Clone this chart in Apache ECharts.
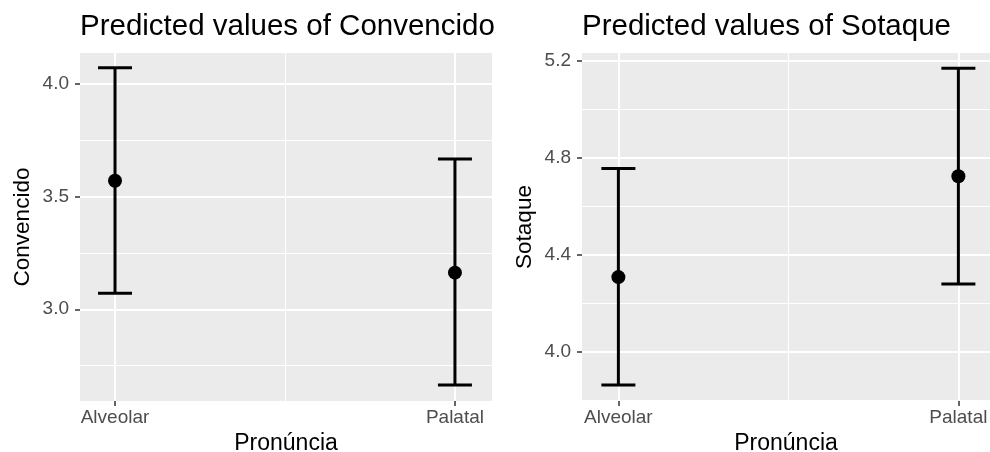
<!DOCTYPE html>
<html>
<head>
<meta charset="utf-8">
<script src="https://cdn.jsdelivr.net/npm/echarts@6/dist/echarts.min.js"></script>
<style>
  html, body { margin: 0; padding: 0; background: #fff; }
  #chart { width: 990px; height: 452px; }
</style>
</head>
<body>
<div id="chart"></div>
<script>
// categories on x (plotted at 1 and 2)
var categories = ['Alveolar', 'Palatal'];
var catPos = [1, 2];
var catMinor = [1.5];

// Convencido: predicted value and confidence interval
var convPred = [3.569, 3.162];
var convLow = [3.071, 2.665];
var convHigh = [4.069, 3.665];
var convTicks = [3.0, 3.5, 4.0];
var convMinor = [2.75, 3.25, 3.75];

// Sotaque: predicted value and confidence interval
var sotPred = [4.308, 4.724];
var sotLow = [3.863, 4.279];
var sotHigh = [4.756, 5.169];
var sotTicks = [4.0, 4.4, 4.8, 5.2];
var sotMinor = [3.8, 4.2, 4.6, 5.0];

var FONT = "'Liberation Sans', Arial, Helvetica, sans-serif";
var PANEL = '#EBEBEB';

var chart = echarts.init(document.getElementById('chart'));

function xAxisFor(idx, min, max) {
    return {
        type: 'value', gridIndex: idx, min: min, max: max,
        name: 'Pronúncia', nameLocation: 'middle', nameGap: 30,
        nameTextStyle: { color: '#000', fontSize: 23, fontFamily: FONT },
        axisLine: { show: false },
        axisTick: { show: true, customValues: catPos, length: 5, lineStyle: { color: '#333', width: 1.5 } },
        axisLabel: {
            customValues: catPos, margin: 7, color: '#4D4D4D', fontSize: 19, fontFamily: FONT,
            formatter: function (v) { return categories[Math.round(v) - 1] || ''; }
        },
        splitLine: { show: false }
    };
}

function yAxisFor(idx, min, max, ticks, name) {
    return {
        type: 'value', gridIndex: idx, min: min, max: max,
        name: name, nameLocation: 'middle', nameGap: 46,
        nameTextStyle: { color: '#000', fontSize: 22.5, fontFamily: FONT },
        axisLine: { show: false },
        axisTick: { show: true, customValues: ticks, length: 5, lineStyle: { color: '#333', width: 1.5 } },
        axisLabel: {
            customValues: ticks, margin: 11, color: '#4D4D4D', fontSize: 19, fontFamily: FONT,
            formatter: function (v) { return v.toFixed(1); }
        },
        splitLine: { show: false }
    };
}

// white grid lines drawn as mark lines behind the marks
function gridSeries(idx, majorY, minorY) {
    var lines = [];
    minorY.forEach(function (v) { lines.push({ yAxis: v, lineStyle: { width: 1 } }); });
    catMinor.forEach(function (v) { lines.push({ xAxis: v, lineStyle: { width: 1 } }); });
    majorY.forEach(function (v) { lines.push({ yAxis: v, lineStyle: { width: 2 } }); });
    catPos.forEach(function (v) { lines.push({ xAxis: v, lineStyle: { width: 2 } }); });
    return {
        type: 'line', xAxisIndex: idx, yAxisIndex: idx, data: [], z: 1, silent: true,
        markLine: {
            silent: true, symbol: 'none', animation: false, z: 1,
            label: { show: false },
            lineStyle: { color: '#FFFFFF', type: 'solid' },
            data: lines
        }
    };
}

function errorSeries(idx, low, high) {
    return {
        type: 'custom', xAxisIndex: idx, yAxisIndex: idx, z: 10, silent: true,
        data: catPos.map(function (x, i) { return [x, low[i], high[i]]; }),
        renderItem: function (params, api) {
            var x = api.value(0), lo = api.value(1), hi = api.value(2);
            var top = api.coord([x, hi]);
            var bot = api.coord([x, lo]);
            var halfW = api.coord([x + 0.05, hi])[0] - top[0];
            var style = { stroke: '#000', lineWidth: 3 };
            return {
                type: 'group',
                children: [
                    { type: 'line', shape: { x1: top[0], y1: top[1], x2: bot[0], y2: bot[1] }, style: style },
                    { type: 'line', shape: { x1: top[0] - halfW, y1: top[1], x2: top[0] + halfW, y2: top[1] }, style: style },
                    { type: 'line', shape: { x1: bot[0] - halfW, y1: bot[1], x2: bot[0] + halfW, y2: bot[1] }, style: style }
                ]
            };
        }
    };
}

function pointSeries(idx, pred) {
    return {
        type: 'scatter', xAxisIndex: idx, yAxisIndex: idx, z: 11,
        symbol: 'circle', symbolSize: 14,
        itemStyle: { color: '#000', opacity: 1 },
        data: catPos.map(function (x, i) { return [x, pred[i]]; })
    };
}

var option = {
    animation: false,
    backgroundColor: '#FFFFFF',
    title: [
        { text: 'Predicted values of Convencido', left: 75, top: 7,
          textStyle: { fontSize: 29.5, fontWeight: 'normal', color: '#000', fontFamily: FONT } },
        { text: 'Predicted values of Sotaque', left: 577, top: 7,
          textStyle: { fontSize: 29.5, fontWeight: 'normal', color: '#000', fontFamily: FONT } }
    ],
    grid: [
        { left: 80, top: 53, width: 412, bottom: 51, show: true, backgroundColor: PANEL, borderWidth: 0,
          outerBoundsMode: 'none', containLabel: false },
        { left: 582, top: 53, right: 0, bottom: 51, show: true, backgroundColor: PANEL, borderWidth: 0,
          outerBoundsMode: 'none', containLabel: false }
    ],
    xAxis: [
        xAxisFor(0, 0.897, 2.109),
        xAxisFor(1, 0.893, 2.093)
    ],
    yAxis: [
        yAxisFor(0, 2.594, 4.134, convTicks, 'Convencido'),
        yAxisFor(1, 3.797, 5.232, sotTicks, 'Sotaque')
    ],
    series: [
        gridSeries(0, convTicks, convMinor),
        gridSeries(1, sotTicks, sotMinor),
        errorSeries(0, convLow, convHigh),
        errorSeries(1, sotLow, sotHigh),
        pointSeries(0, convPred),
        pointSeries(1, sotPred)
    ]
};

chart.setOption(option);
</script>
</body>
</html>
